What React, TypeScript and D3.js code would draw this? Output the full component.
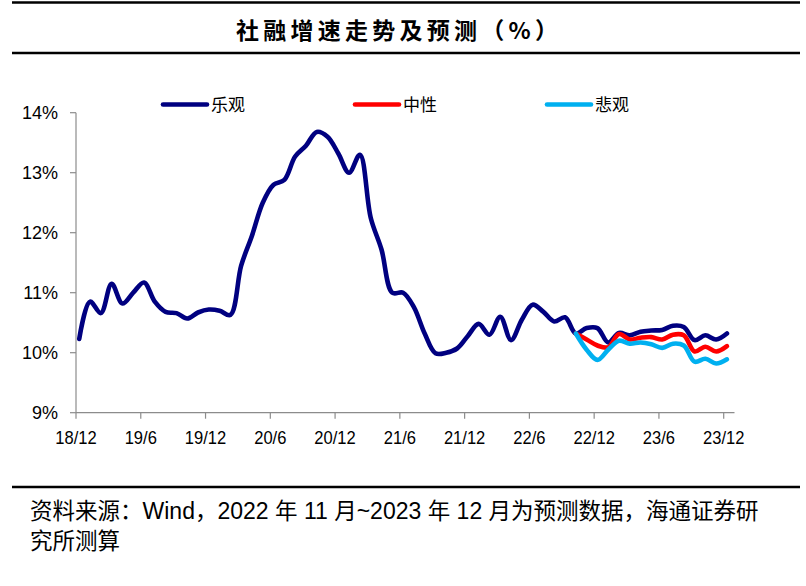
import React, { useRef, useEffect } from 'react';
import * as d3 from 'd3';

// 2018/12 .. 2022/10 actual TSF growth (%)
const actual = [
  10.23, 10.85, 10.66, 11.15, 10.82, 11.0, 11.17, 10.85, 10.68, 10.66, 10.57, 10.67,
  10.72, 10.7, 10.63, 11.45, 11.95, 12.5, 12.8, 12.88, 13.27, 13.45, 13.68, 13.6,
  13.32, 13.0, 13.3, 12.25, 11.72, 11.0, 11.0, 10.76, 10.32, 9.99, 10.0, 10.07,
  10.28, 10.48, 10.3, 10.6, 10.21, 10.55, 10.8, 10.68, 10.52, 10.59, 10.32,
];
// 2022/10 .. 2023/12 forecasts (first point = last actual)
const optimistic = [10.32, 10.41, 10.41, 10.17, 10.33, 10.29, 10.35, 10.37, 10.38, 10.45, 10.43, 10.21, 10.29, 10.22, 10.32];
const neutral = [10.32, 10.22, 10.12, 10.09, 10.31, 10.22, 10.25, 10.26, 10.22, 10.3, 10.29, 10.02, 10.1, 10.02, 10.11];
const pessimistic = [10.32, 10.05, 9.88, 10.05, 10.2, 10.15, 10.17, 10.14, 10.08, 10.15, 10.12, 9.85, 9.9, 9.82, 9.89];

const tickLabels = ['18/12', '19/6', '19/12', '20/6', '20/12', '21/6', '21/12', '22/6', '22/12', '23/6', '23/12'];
const yTicks = [9, 10, 11, 12, 13, 14];
const legendNames = ['乐观', '中性', '悲观'];
const colors = ['#000080', '#FF0000', '#00B0F0'];

const W = 806;
const H = 586;

const App: React.FC = () => {
  const svgRef = useRef<SVGSVGElement | null>(null);

  useEffect(() => {
    if (!svgRef.current) return;
    const svg = d3.select(svgRef.current);
    svg.selectAll('*').remove();

    const x = d3.scaleLinear().domain([0, 61]).range([76, 734.5]);
    const y = d3.scaleLinear().domain([9, 14]).range([412.7, 112.7]);
    const px = (i: number) => x(i + 0.3);

    const sans = 'Liberation Sans, Arial, sans-serif';
    const cjk = '"Noto Sans CJK SC", sans-serif';

    // rules
    [2.5, 53, 487].forEach(yy => {
      svg.append('line')
        .attr('x1', 12).attr('x2', 800)
        .attr('y1', yy).attr('y2', yy)
        .attr('stroke', '#000').attr('stroke-width', 2.5);
    });

    // title
    svg.append('text')
      .attr('x', 236).attr('y', 39)
      .attr('font-family', cjk)
      .attr('font-weight', 'bold')
      .attr('font-size', 23)
      .attr('textLength', 322)
      .attr('lengthAdjust', 'spacing')
      .text('社融增速走势及预测（%）');

    // axes
    const axisColor = '#8c8c8c';
    svg.append('line')
      .attr('x1', x(0)).attr('x2', x(0))
      .attr('y1', y(14)).attr('y2', y(9))
      .attr('stroke', axisColor).attr('stroke-width', 1.2);
    svg.append('line')
      .attr('x1', x(0)).attr('x2', x(61))
      .attr('y1', y(9)).attr('y2', y(9))
      .attr('stroke', axisColor).attr('stroke-width', 1.2);

    const yg = svg.append('g');
    yTicks.forEach(t => {
      yg.append('line')
        .attr('x1', x(0) - 6).attr('x2', x(0))
        .attr('y1', y(t)).attr('y2', y(t))
        .attr('stroke', axisColor).attr('stroke-width', 1.2);
      yg.append('text')
        .attr('x', 58).attr('y', y(t) + 6.5)
        .attr('text-anchor', 'end')
        .attr('font-family', sans)
        .attr('font-size', 18)
        .text(`${t}%`);
    });

    const xg = svg.append('g');
    tickLabels.forEach((lab, k) => {
      const xx = x(k * 6);
      xg.append('line')
        .attr('x1', xx).attr('x2', xx)
        .attr('y1', y(9)).attr('y2', y(9) + 6)
        .attr('stroke', axisColor).attr('stroke-width', 1.2);
      xg.append('text')
        .attr('x', xx).attr('y', 444)
        .attr('text-anchor', 'middle')
        .attr('font-family', sans)
        .attr('font-size', 18)
        .attr('transform', `translate(${xx},0) scale(0.92,1) translate(${-xx},0)`)
        .text(lab);
    });

    // lines
    const line = d3.line<[number, number]>()
      .x(d => d[0]).y(d => d[1])
      .curve(d3.curveCatmullRom.alpha(0.5));

    const start = actual.length - 1;
    const navyPts = actual.map((v, i) => [px(i), y(v)] as [number, number])
      .concat(optimistic.slice(1).map((v, i) => [px(start + 1 + i), y(v)] as [number, number]));
    const redPts = neutral.map((v, i) => [px(start + i), y(v)] as [number, number]);
    const bluePts = pessimistic.map((v, i) => [px(start + i), y(v)] as [number, number]);

    [navyPts, redPts, bluePts].forEach((pts, k) => {
      svg.append('path')
        .attr('d', line(pts))
        .attr('fill', 'none')
        .attr('stroke', colors[k])
        .attr('stroke-width', 4.6)
        .attr('stroke-linejoin', 'round')
        .attr('stroke-linecap', 'round');
    });

    // legend
    const legX = [163, 355, 547];
    legendNames.forEach((name, k) => {
      svg.append('line')
        .attr('x1', legX[k]).attr('x2', legX[k] + 44)
        .attr('y1', 104.5).attr('y2', 104.5)
        .attr('stroke', colors[k]).attr('stroke-width', 4.6)
        .attr('stroke-linecap', 'round');
      svg.append('text')
        .attr('x', legX[k] + 48).attr('y', 111)
        .attr('font-family', cjk)
        .attr('font-size', 17)
        .text(name);
    });

    // footer
    const foot = svg.append('text')
      .attr('x', 30).attr('y', 519)
      .attr('font-family', cjk)
      .attr('font-size', 22.5);
    const parts: [string, boolean][] = [
      ['资料来源：', true], ['Wind', false], ['，', true], ['2022 ', false], ['年', true],
      [' 11 ', false], ['月', true], ['~2023 ', false], ['年', true], [' 12 ', false],
      ['月为预测数据，海通证券研', true],
    ];
    parts.forEach(([s, isCjk]) => {
      foot.append('tspan')
        .attr('font-family', isCjk ? cjk : sans)
        .attr('font-size', isCjk ? 22.5 : 23)
        .text(s);
    });
    svg.append('text')
      .attr('x', 30).attr('y', 549)
      .attr('font-family', cjk)
      .attr('font-size', 22.5)
      .text('究所测算');
  }, []);

  return (
    <svg
      ref={svgRef}
      width={W}
      height={H}
      style={{ position: 'absolute', left: 0, top: 0, background: '#fff' }}
    />
  );
};

export default App;
